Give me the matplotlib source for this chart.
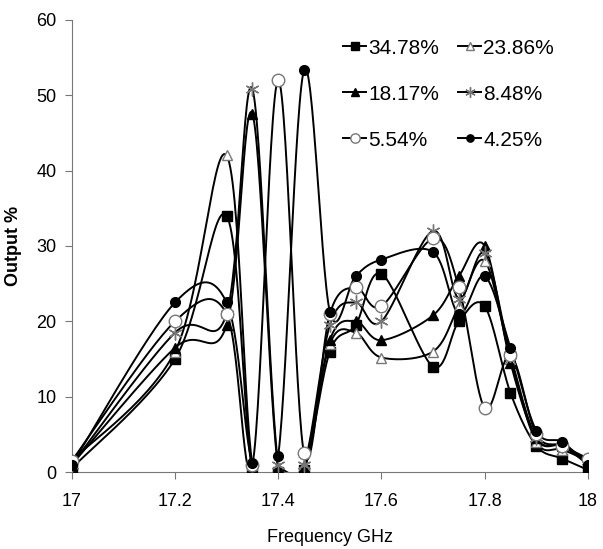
import numpy as np
import matplotlib
matplotlib.use("Agg")
import matplotlib.pyplot as plt

plt.rcParams['font.family'] = ['Liberation Sans', 'DejaVu Sans']

freq = [17.0, 17.2, 17.3, 17.35, 17.4, 17.45, 17.5, 17.55, 17.6, 17.7, 17.75, 17.8, 17.85, 17.9, 17.95, 18.0]

s3478 = [0.5, 15.0, 34.0, 0.0, 0.0, 0.3, 16.0, 19.5, 26.3, 14.0, 20.0, 22.0, 10.5, 3.5, 1.8, 0.3]
s2386 = [1.5, 16.0, 42.0, 1.0, 0.5, 1.0, 17.0, 18.5, 15.2, 16.0, 22.0, 28.0, 15.0, 4.0, 3.0, 1.5]
s1817 = [1.0, 16.5, 19.5, 47.5, 0.5, 0.5, 17.5, 20.0, 17.5, 20.8, 26.0, 30.0, 14.5, 4.5, 3.5, 1.0]
s848 = [1.0, 18.5, 21.0, 50.8, 1.0, 1.0, 19.5, 22.5, 20.0, 32.0, 23.0, 29.0, 15.5, 4.5, 3.5, 1.5]
s554 = [1.5, 20.0, 21.0, 1.0, 52.0, 2.5, 21.0, 24.5, 22.0, 31.0, 24.5, 8.5, 15.5, 5.0, 3.5, 1.8]
s425 = [1.0, 22.5, 22.5, 1.2, 2.2, 53.3, 21.3, 26.0, 28.2, 29.2, 21.0, 26.0, 16.5, 5.5, 4.0, 1.0]

labels = ['34.78%', '23.86%', '18.17%', '8.48%', '5.54%', '4.25%']


def smooth(x, y, n=30):
    # excel-like smoothed line: catmull-rom bezier through points
    p = np.column_stack([x, y])
    p = np.vstack([p[0], p, p[-1]])
    out = []
    t = np.linspace(0, 1, n)[:, None]
    for i in range(1, len(p) - 2):
        p0, p1, p2, p3 = p[i - 1], p[i], p[i + 1], p[i + 2]
        b1 = p1 + (p2 - p0) / 6
        b2 = p2 - (p3 - p1) / 6
        seg = ((1 - t) ** 3) * p1 + 3 * ((1 - t) ** 2) * t * b1 + 3 * (1 - t) * t ** 2 * b2 + t ** 3 * p2
        out.append(seg)
    out = np.vstack(out)
    return out[:, 0], out[:, 1]


fig = plt.figure(figsize=(6.03, 5.49), dpi=100)
ax = fig.add_axes([0.119, 0.140, 0.856, 0.824])

styles = [
    dict(marker='s', mfc='black', mec='black', ms=7),
    dict(marker='^', mfc='white', mec='#777777', ms=7),
    dict(marker='^', mfc='black', mec='black', ms=7),
    dict(marker=(6, 2, 0), mfc='#777777', mec='#777777', ms=10, mew=1),
    dict(marker='o', mfc='white', mec='#777777', ms=9),
    dict(marker='o', mfc='black', mec='black', ms=7),
]

series = [s3478, s2386, s1817, s848, s554, s425]
handles = []
for ys, st, lab in zip(series, styles, labels):
    sx, sy = smooth(freq, ys)
    ax.plot(sx, sy, color='black', lw=1.4, zorder=2)
    ax.plot(freq, ys, ls='none', zorder=3, **st)
    h, = ax.plot([], [], color='black', lw=1.4, label=lab, **st)
    handles.append(h)

ax.set_xlim(17, 18)
ax.set_ylim(0, 60)
ax.set_xticks([17, 17.2, 17.4, 17.6, 17.8, 18])
ax.set_xticklabels(['17', '17.2', '17.4', '17.6', '17.8', '18'])
ax.set_yticks(range(0, 61, 10))
ax.tick_params(labelsize=13, color='#777777', length=5, direction='out')
ax.tick_params(axis='x', pad=10)
ax.tick_params(axis='y', pad=6)
ax.spines['top'].set_visible(False)
ax.spines['right'].set_visible(False)
ax.spines['left'].set_color('#777777')
ax.spines['bottom'].set_color('#777777')
ax.set_xlabel('Frequency GHz', fontsize=13, labelpad=14)
ax.set_ylabel('Output %', fontsize=13, fontweight='bold', labelpad=10)

# row-major order like the original legend
order = [0, 2, 4, 1, 3, 5]
ax.legend([handles[i] for i in order], [labels[i] for i in order],
          ncol=2, frameon=False, loc='upper left', bbox_to_anchor=(0.49, 1.0),
          fontsize=15, handlelength=1.1, handletextpad=0.1, columnspacing=0.9,
          labelspacing=1.3, markerscale=0.75)

fig.savefig('out.png', dpi=100)
